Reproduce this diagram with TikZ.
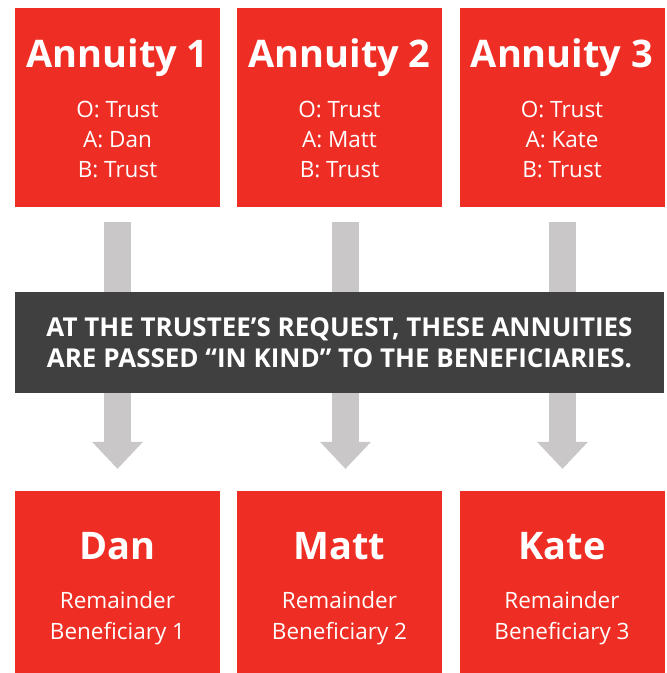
\documentclass[tikz,border=0pt]{standalone}
\usepackage{fontspec}
\setmainfont{Open Sans}
\usepackage{tikz}
\usetikzlibrary{arrows.meta}
\definecolor{boxred}{RGB}{238,46,36}
\definecolor{arrowgrey}{RGB}{201,199,200}
\definecolor{bardark}{RGB}{64,64,64}
\tikzstyle{redbox}=[rectangle,fill=boxred,minimum width=205pt,minimum height=199pt,inner sep=0pt]
\tikzstyle{lowbox}=[redbox,minimum height=182pt]
\tikzstyle{darkbar}=[rectangle,fill=bardark,minimum width=649pt,minimum height=101pt,inner sep=0pt]
\tikzstyle{bigtext}=[text=white,anchor=base,inner sep=0pt,font=\fontsize{38}{40}\selectfont\bfseries]
\tikzstyle{smalltext}=[text=white,anchor=base,inner sep=0pt,font=\fontsize{22.5}{26}\selectfont]
\tikzstyle{bartext}=[text=white,anchor=base,inner sep=0pt,font=\fontsize{26}{30}\selectfont\bfseries]
\tikzstyle{flow}=[draw=arrowgrey,line width=27pt,-{Triangle[width=51pt,length=27pt,line width=0pt]}]

\begin{document}
\begin{tikzpicture}[x=1pt,y=-1pt]
\useasboundingbox (0,0) rectangle (667,673);

 %Annuities
 \foreach \x/\name/\num/\who in {117.5/ann1/1/Dan, 339.5/ann2/2/Matt, 562/ann3/3/Kate}
 {
  \node[redbox] (\name) at (\x,107.5) {};
  \node[bigtext] (\name-t) at (\x,67) {Annuity \num};
  \node[smalltext] (\name-o) at (\x,117) {O: Trust};
  \node[smalltext] (\name-a) at (\x,147) {A: \who};
  \node[smalltext] (\name-b) at (\x,177) {B: Trust};
 }

 %Beneficiaries
 \foreach \x/\name/\num/\who in {117.5/ben1/1/Dan, 339.5/ben2/2/Matt, 562/ben3/3/Kate}
 {
  \node[lowbox] (\name) at (\x,582) {};
  \node[bigtext] (\name-t) at (\x,559) {\who};
  \node[smalltext] (\name-r) at (\x,608) {Remainder};
  \node[smalltext] (\name-b) at (\x,639) {Beneficiary \num};
 }

 %Arrows
 \foreach \src/\dst/\dx in {ann1/ben1/0, ann2/ben2/6, ann3/ben3/0.5}
   \draw[flow] ([xshift=\dx pt,yshift=-15pt]\src.south) -- ([xshift=\dx pt,yshift=22pt]\dst.north);

 %Trustee bar
 \node[darkbar] (bar) at (339.5,342.5) {};
 \node[bartext] (bar1) at (339.5,336) {AT THE TRUSTEE’S REQUEST, THESE ANNUITIES};
 \node[bartext] (bar2) at (339.5,367) {ARE PASSED “IN KIND” TO THE BENEFICIARIES.};

\end{tikzpicture}
\end{document}
